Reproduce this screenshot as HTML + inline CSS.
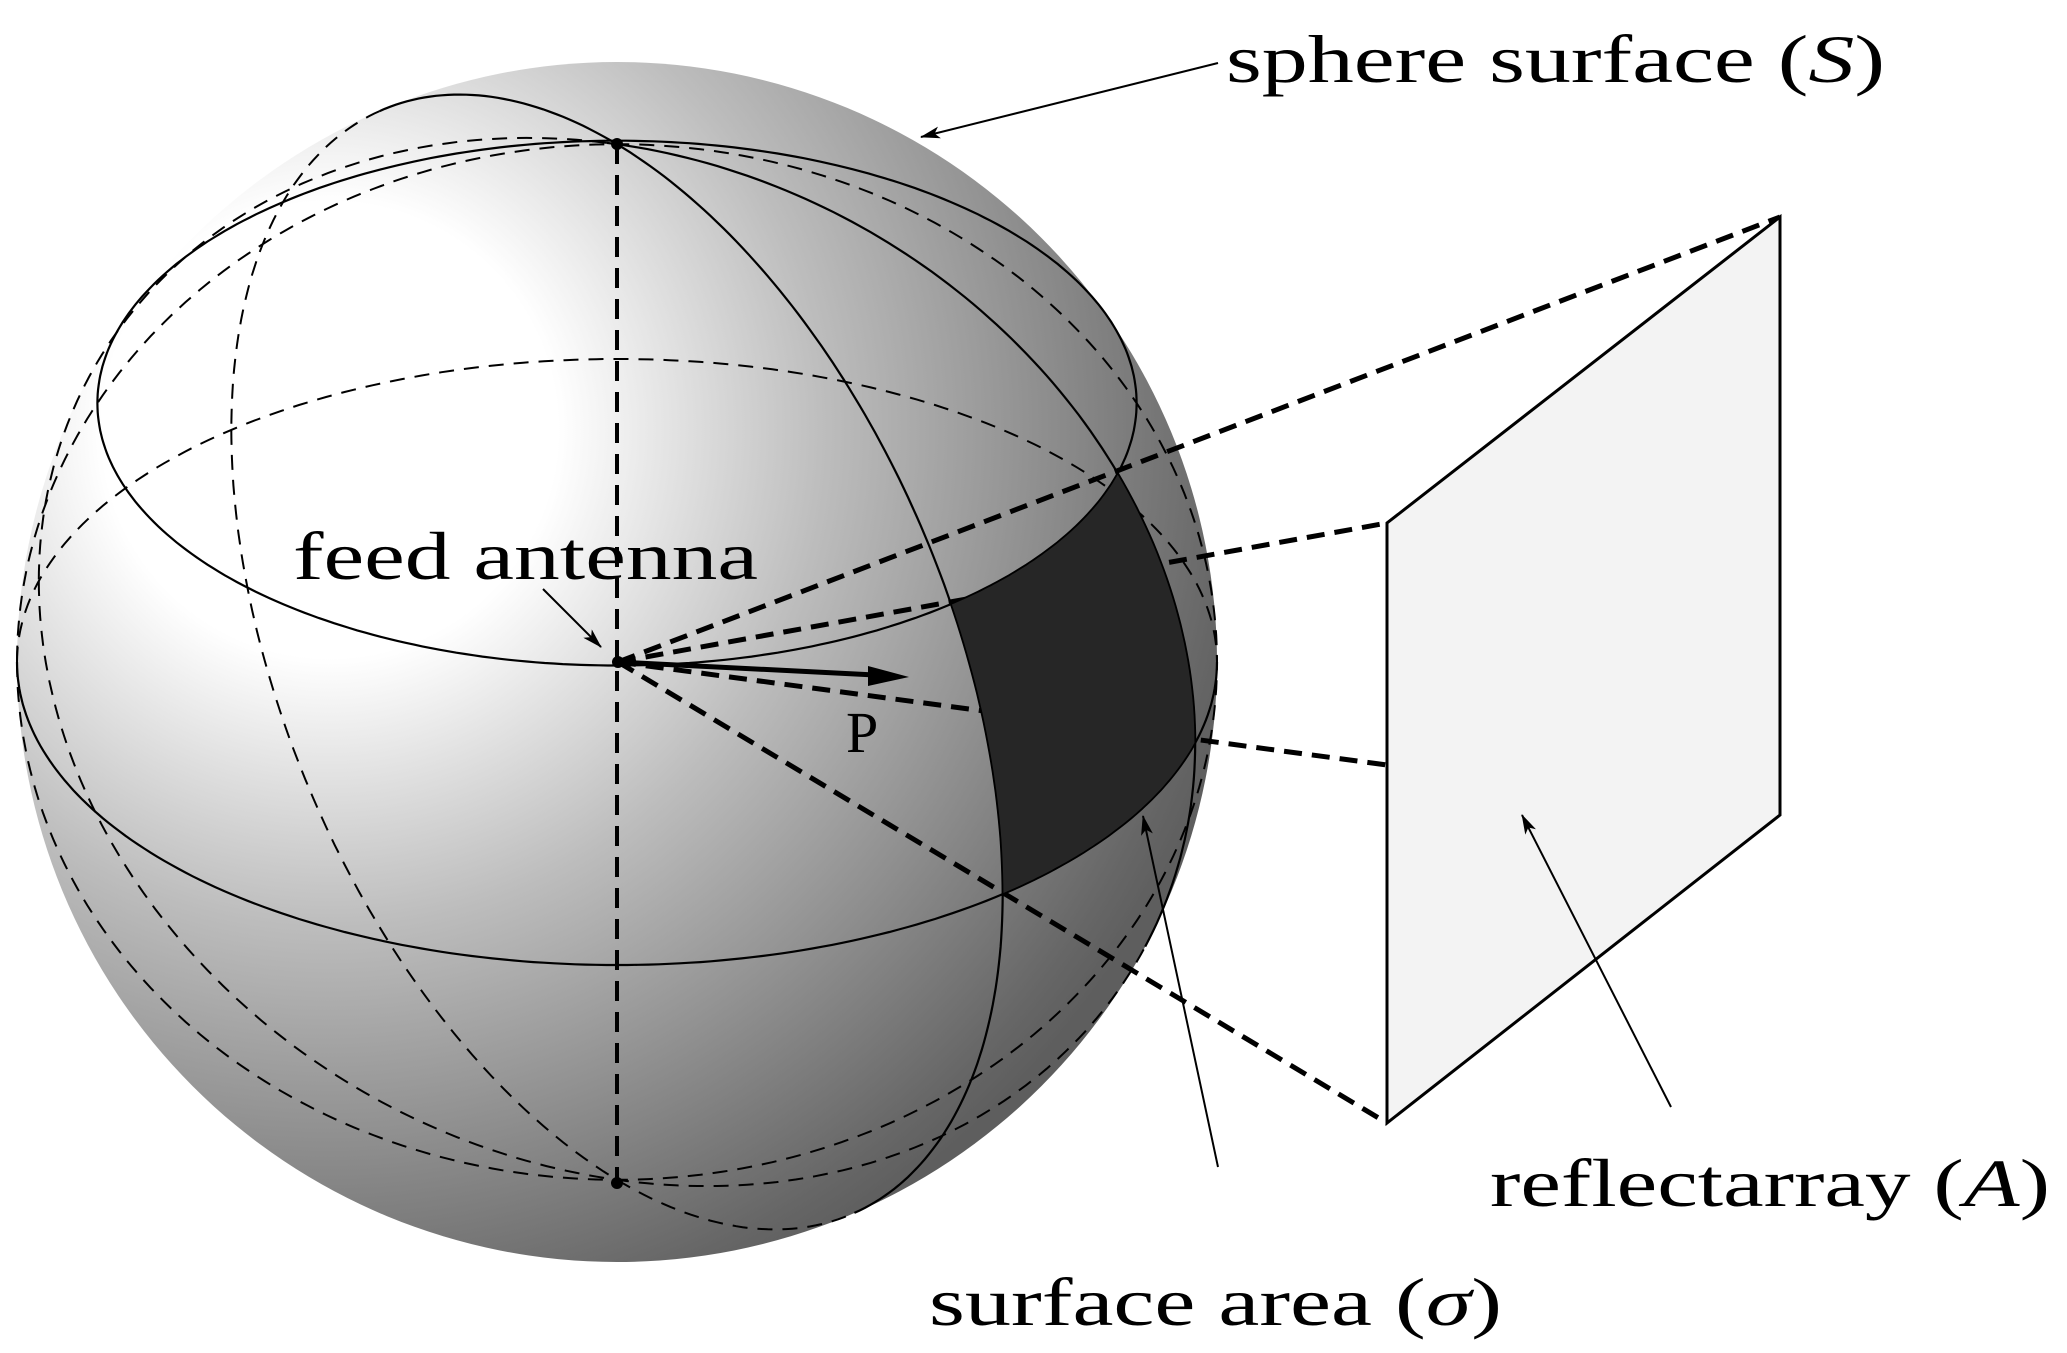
<!DOCTYPE html>
<html><head><meta charset="utf-8"><style>
html,body{margin:0;padding:0;background:#fff;}
svg{display:block}
text{font-family:"Liberation Serif",serif;fill:#000}
</style></head><body>
<svg id="s" width="2067" height="1353" viewBox="0 0 2067 1353" xmlns="http://www.w3.org/2000/svg">
<defs>
<radialGradient id="g" gradientUnits="userSpaceOnUse" cx="330" cy="430" r="950">
<stop offset="0" stop-color="#ffffff"/>
<stop offset="0.24" stop-color="#ffffff"/>
<stop offset="0.52" stop-color="#bdbdbd"/>
<stop offset="0.95" stop-color="#666666"/>
<stop offset="1" stop-color="#5e5e5e"/>
</radialGradient>
<marker id="ah" markerWidth="20" markerHeight="12" refX="19" refY="6" orient="auto" markerUnits="userSpaceOnUse">
<path d="M0,0 L20,6 L0,12 L5,6 Z" fill="#000"/>
</marker>
</defs>
<circle cx="617" cy="662" r="600" fill="url(#g)"/>
<g id="lines" fill="none" stroke="#000"></g>
<line x1="617" y1="144" x2="617" y2="1183" stroke="#000" stroke-width="4" stroke-dasharray="20 11"/>
<g stroke="#000" stroke-width="5" stroke-dasharray="18 10" fill="none">
<line x1="618" y1="662" x2="1780" y2="217"/>
<line x1="618" y1="662" x2="1387" y2="523"/>
<line x1="618" y1="662" x2="1387" y2="765"/>
<line x1="618" y1="662" x2="1387" y2="1123"/>
</g>
<g id="band2"></g>
<polygon points="1780,217 1387,523 1387,1123 1780,815" fill="#f3f3f3" stroke="#000" stroke-width="3"/>
<line x1="618" y1="662" x2="875" y2="675" stroke="#000" stroke-width="5"/>
<polygon points="909,677 868,666 868,686" fill="#000"/>
<text x="846" y="752" font-size="58">P</text>
<circle cx="617" cy="144" r="6"/>
<circle cx="617" cy="1183" r="6"/>
<circle cx="618" cy="662" r="6"/>
<g stroke="#000" stroke-width="2" marker-end="url(#ah)">
<line x1="1218" y1="63" x2="921" y2="137"/>
<line x1="543" y1="589" x2="601" y2="647"/>
<line x1="1218" y1="1167" x2="1143" y2="816"/>
<line x1="1671" y1="1107" x2="1522" y2="815"/>
</g>
<text x="1226" y="82" font-size="68" textLength="659" lengthAdjust="spacingAndGlyphs">sphere surface (<tspan font-style="italic">S</tspan>)</text>
<text x="293" y="579" font-size="68" textLength="465" lengthAdjust="spacingAndGlyphs">feed antenna</text>
<text x="1490" y="1206" font-size="68" textLength="560" lengthAdjust="spacingAndGlyphs">reflectarray (<tspan font-style="italic">A</tspan>)</text>
<text x="929" y="1325" font-size="68" textLength="573" lengthAdjust="spacingAndGlyphs">surface area (<tspan font-style="italic">σ</tspan>)</text>
</svg>
<script>
(function(){
var NS="http://www.w3.org/2000/svg";
var n=[0,-0.863,0.505],e1=[1,0,0],e2=[0,0.505,0.863];
var R=600,CX=617,CY=662,D=Math.PI/180;
function comb(a,b,c,x,y,z){return [a*x[0]+b*y[0]+c*z[0],a*x[1]+b*y[1]+c*z[1],a*x[2]+b*y[2]+c*z[2]];}
function lat(la,lo){la*=D;lo*=D;var c=Math.cos(la);return comb(Math.sin(la),c*Math.cos(lo),c*Math.sin(lo),n,e1,e2);}
function mer(l,t){l*=D;t*=D;var d=[Math.cos(l),Math.sin(l)*e2[1],Math.sin(l)*e2[2]];return comb(Math.sin(t),Math.cos(t),0,n,d,[0,0,0]);}
function P(v){return (CX+R*v[0]).toFixed(1)+","+(CY+R*v[1]).toFixed(1);}
var g=document.getElementById("lines");
function add(pts,dashed){
 if(pts.length<2)return;
 var p=document.createElementNS(NS,"path");
 p.setAttribute("d","M"+pts.join(" L"));
 p.setAttribute("stroke-width",dashed?"2":"2.2");
 if(dashed)p.setAttribute("stroke-dasharray","15 10");
 g.appendChild(p);
}
function curve(f,mode){
 var cur=[],vis=null;
 for(var t=-180;t<=180;t+=1){
  var v=f(t);var s;
  if(mode==="solid")s=true;else if(mode==="dash")s=false;
  else if(typeof mode==="function")s=mode(t,v);
  else s=(v[2]>=0);
  if(vis===null)vis=s;
  if(s!==vis){cur.push(P(v));add(cur,!vis);cur=[P(v)];vis=s;}
  else cur.push(P(v));
 }
 add(cur,!vis);
}
curve(function(t){return lat(30,t);},"solid");
curve(function(t){return lat(0,t);},"auto");
curve(function(t){return mer(50,t);},"auto");
curve(function(t){return mer(15.5,t);},function(t,v){return v[2]>=0 && t<=90;});
curve(function(t){return mer(0,t);},"dash");
var pts=[],i;
for(i=0;i<=30;i++)pts.push(P(lat(i,50)));
for(i=50;i>=15.5;i-=0.5)pts.push(P(lat(30,i)));
for(i=30;i>=0;i--)pts.push(P(lat(i,15.5)));
for(i=15.5;i<=50;i+=0.5)pts.push(P(lat(0,i)));
var b=document.createElementNS(NS,"polygon");
b.setAttribute("points",pts.join(" "));
b.setAttribute("fill","#262626");
b.setAttribute("stroke","#000");b.setAttribute("stroke-width","1.5");
document.getElementById("band2").appendChild(b);
})();
</script>
</body></html>
